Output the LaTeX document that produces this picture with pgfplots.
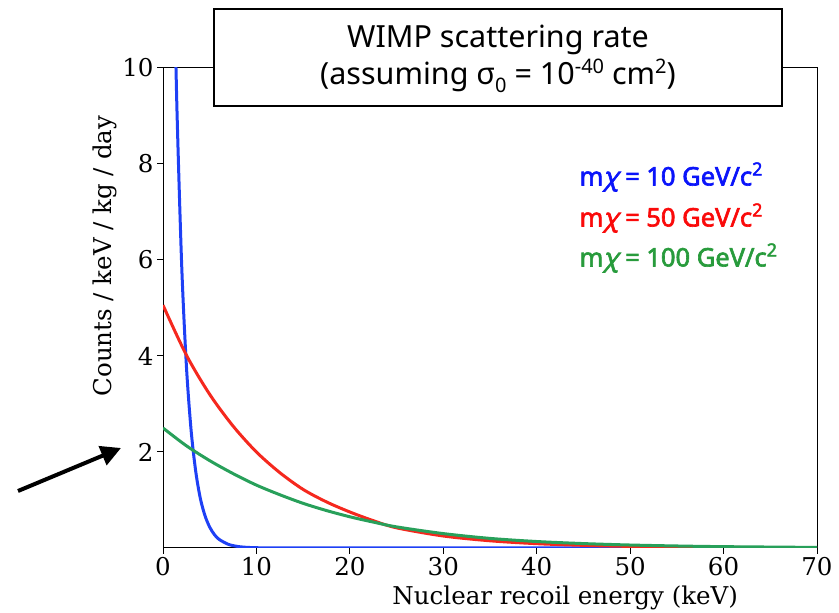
\documentclass[border=0pt]{standalone}
\usepackage{fontspec}
\setmainfont{DejaVu Serif}
\newfontfamily\notosans{Noto Sans}[AutoFakeBold=2.5, AutoFakeSlant=0.2]
\usepackage{pgfplots}
\pgfplotsset{compat=1.18}
\usetikzlibrary{arrows.meta}
\definecolor{cblue}{RGB}{30,64,245}
\definecolor{cred}{RGB}{245,40,30}
\definecolor{cgreen}{RGB}{40,160,90}
\definecolor{tblue}{RGB}{10,20,250}
\definecolor{tred}{RGB}{250,10,10}
\definecolor{tgreen}{RGB}{40,155,60}
\begin{document}
\begin{tikzpicture}[x=1pt,y=1pt]
\useasboundingbox (0,0) rectangle (839,613);
\begin{axis}[
  at={(163pt,65pt)}, anchor=south west,
  scale only axis, width=654pt, height=480pt,
  xmin=0, xmax=70, ymin=0, ymax=10,
  xtick={0,10,...,70}, ytick={2,4,6,8,10},
  tick align=outside, tick pos=left,
  major tick length=6pt,
  every tick/.style={black, line width=1pt},
  axis line style={line width=1pt},
  font=\fontsize{24.5}{24.5}\selectfont,
  /pgf/number format/assume math mode=true,
  xlabel={Nuclear recoil energy (keV)},
  ylabel={Counts / keV / kg / day},
  xlabel style={at={(axis description cs:0.615,-0.104)}, anchor=center},
  ylabel style={at={(axis description cs:-0.0887,0.608)}, anchor=center},
  every axis plot/.append style={line width=3pt},
]
\addplot[cblue, smooth] coordinates {
 (1.2,11.8) (1.5,9.09) (2,5.89) (2.5,3.81) (3,2.47) (3.5,1.60) (4,1.03) (4.5,0.67)
 (5,0.434) (5.5,0.28) (6,0.18) (7,0.076) (8,0.032) (9,0.013) (10,0.006) (12,0.001)
 (20,0) (40,0) (70,0)};
\addplot[cred, smooth] coordinates {
 (0,5.06) (2.5,4.02) (5,3.2) (7.5,2.54) (10,2.0) (12.5,1.57) (15,1.22) (17.5,0.96)
 (20,0.75) (22.5,0.57) (25,0.42) (30,0.25) (35,0.15) (40,0.09) (45,0.055) (50,0.033)
 (55,0.02) (60,0.012) (70,0.004)};
\addplot[cgreen, smooth] coordinates {
 (0,2.5) (2.5,2.13) (5,1.82) (7.5,1.55) (10,1.31) (12.5,1.11) (15,0.93) (17.5,0.78)
 (20,0.65) (22.5,0.54) (25,0.44) (30,0.3) (35,0.2) (40,0.135) (45,0.092) (50,0.062)
 (55,0.042) (60,0.028) (70,0.012)};
\end{axis}
% title box
\draw[line width=1.6pt, fill=white] (214,507) rectangle (782,604);
\node[font=\notosans\fontsize{30.5}{30.5}\selectfont] at (498,573) {WIMP scattering rate};
\node[font=\notosans\fontsize{30.5}{30.5}\selectfont] at (498,537) {(assuming σ\raisebox{-8pt}{\fontsize{20}{20}\selectfont 0} = 10\raisebox{11pt}{\fontsize{20}{20}\selectfont -40} cm\raisebox{11pt}{\fontsize{20}{20}\selectfont 2})};
% legend text
\node[anchor=west, text=tblue, font=\notosans\bfseries\fontsize{25.5}{25.5}\selectfont] at (576,436) {m{\itshape χ} = 10 GeV/c\raisebox{10pt}{\fontsize{18}{18}\selectfont 2}};
\node[anchor=west, text=tred, font=\notosans\bfseries\fontsize{25.5}{25.5}\selectfont] at (576,395) {m{\itshape χ} = 50 GeV/c\raisebox{10pt}{\fontsize{18}{18}\selectfont 2}};
\node[anchor=west, text=tgreen, font=\notosans\bfseries\fontsize{25.5}{25.5}\selectfont] at (576,355) {m{\itshape χ} = 100 GeV/c\raisebox{10pt}{\fontsize{18}{18}\selectfont 2}};
% arrow
\draw[line width=4pt, -{Triangle[length=20pt,width=20pt]}] (18,122) -- (121,165);
\end{tikzpicture}
\end{document}
